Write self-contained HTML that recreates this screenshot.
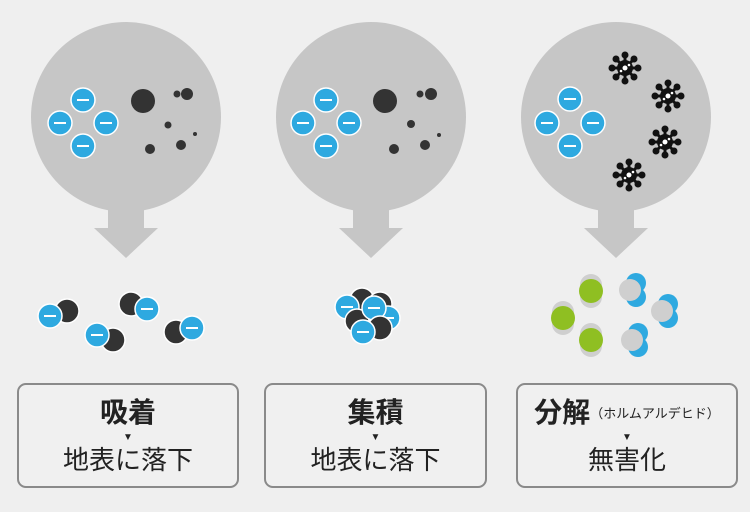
<!DOCTYPE html>
<html><head><meta charset="utf-8"><style>
body{margin:0;width:750px;height:512px;background:#efefef;overflow:hidden;position:relative;font-family:"Liberation Sans","Noto Sans CJK JP",sans-serif;}
.box{position:absolute;top:383px;height:101px;border:2px solid #8a8a8a;border-radius:9px;background:#f0f0f0;text-align:center;color:#222;}
.t{position:absolute;left:0;right:0;top:13px;font-size:28px;font-weight:bold;line-height:30px;}
.t small{font-size:13px;font-weight:normal;vertical-align:4px;}
.tri{position:absolute;left:0;right:0;top:48px;font-size:10px;line-height:10px;}
.s{position:absolute;left:0;right:0;top:60px;font-size:26px;line-height:30px;font-weight:normal;color:#222;}
</style></head><body>
<svg width="750" height="512" style="position:absolute;left:0;top:0">
<defs>
<g id="bub">
<circle cx="0" cy="0" r="95" fill="#c6c6c6"/>
<rect x="-18" y="80" width="36" height="32" fill="#c6c6c6"/>
<polygon points="-32,111 32,111 0,141" fill="#c6c6c6"/>
</g>
<g id="bl"><circle r="12" fill="#2ea9e0" stroke="#fff" stroke-width="1.5"/><rect x="-6" y="-1" width="12" height="2" fill="#fff"/></g>
<g id="bk"><circle r="12" fill="#333" stroke="#fff" stroke-width="1.5"/></g>
<g id="vir" fill="#111">
<circle r="8"/>
<g stroke="#111" stroke-width="3">
<line x1="0" y1="-13" x2="0" y2="13"/><line x1="-13" y1="0" x2="13" y2="0"/><line x1="-9" y1="-9" x2="9" y2="9"/><line x1="-9" y1="9" x2="9" y2="-9"/></g>
<circle cx="0" cy="-13" r="3.5"/><circle cx="0" cy="13" r="3.5"/><circle cx="-13" cy="0" r="3.5"/><circle cx="13" cy="0" r="3.5"/>
<circle cx="-9" cy="-9" r="3.5"/><circle cx="9" cy="9" r="3.5"/><circle cx="-9" cy="9" r="3.5"/><circle cx="9" cy="-9" r="3.5"/>
<circle r="2.5" fill="#fff"/><circle cx="-4" cy="3" r="1.3" fill="#fff"/><circle cx="4" cy="-3" r="1.3" fill="#fff"/>
</g>
<g id="gr"><circle cy="-6" r="11" fill="#cfcfcf"/><circle cy="6" r="11" fill="#cfcfcf"/><circle r="12" fill="#8fbf22"/></g>
<g id="gb"><circle cx="6" cy="-7" r="10" fill="#2ea9e0"/><circle cx="6" cy="7" r="10" fill="#2ea9e0"/><circle r="11" fill="#cfcfcf"/></g>
</defs>
<use href="#bub" x="126" y="117"/>
<use href="#bub" x="371" y="117"/>
<use href="#bub" x="616" y="117"/>
<use href="#bl" x="83" y="100"/><use href="#bl" x="60" y="123"/><use href="#bl" x="106" y="123"/><use href="#bl" x="83" y="146"/>
<circle cx="143" cy="101" r="12" fill="#333"/><circle cx="177" cy="94" r="3.5" fill="#333"/><circle cx="187" cy="94" r="6" fill="#333"/><circle cx="168" cy="125" r="3.5" fill="#333"/><circle cx="195" cy="134" r="2" fill="#333"/><circle cx="181" cy="145" r="5" fill="#333"/><circle cx="150" cy="149" r="5" fill="#333"/>
<use href="#bl" x="326" y="100"/><use href="#bl" x="303" y="123"/><use href="#bl" x="349" y="123"/><use href="#bl" x="326" y="146"/>
<circle cx="385" cy="101" r="12" fill="#333"/><circle cx="420" cy="94" r="3.5" fill="#333"/><circle cx="431" cy="94" r="6" fill="#333"/><circle cx="411" cy="124" r="4" fill="#333"/><circle cx="439" cy="135" r="2" fill="#333"/><circle cx="425" cy="145" r="5" fill="#333"/><circle cx="394" cy="149" r="5" fill="#333"/>
<use href="#bl" x="570" y="99"/><use href="#bl" x="547" y="123"/><use href="#bl" x="593" y="123"/><use href="#bl" x="570" y="146"/>
<use href="#vir" x="625" y="68"/><use href="#vir" x="668" y="96"/><use href="#vir" x="665" y="142"/><use href="#vir" x="629" y="175"/>
<use href="#bk" x="67" y="311"/><use href="#bl" x="50" y="316"/>
<use href="#bk" x="113" y="340"/><use href="#bl" x="97" y="335"/>
<use href="#bk" x="131" y="304"/><use href="#bl" x="147" y="309"/>
<use href="#bk" x="176" y="332"/><use href="#bl" x="192" y="328"/>
<use href="#bk" x="362" y="300"/><use href="#bk" x="380" y="304"/>
<use href="#bl" x="388" y="318"/>
<use href="#bl" x="347" y="307"/>
<use href="#bk" x="357" y="321"/>
<use href="#bl" x="374" y="308"/>
<use href="#bk" x="380" y="328"/>
<use href="#bl" x="363" y="332"/>
<use href="#gr" x="591" y="291"/><use href="#gr" x="563" y="318"/><use href="#gr" x="591" y="340"/>
<use href="#gb" x="630" y="290"/><use href="#gb" x="662" y="311"/><use href="#gb" x="632" y="340"/>
</svg>
<div class="box" style="left:17px;width:218px"><div class="t">吸着</div><div class="tri">▼</div><div class="s">地表に落下</div></div>
<div class="box" style="left:264px;width:219px"><div class="t">集積</div><div class="tri">▼</div><div class="s">地表に落下</div></div>
<div class="box" style="left:516px;width:218px"><div class="t">分解<small>（ホルムアルデヒド）</small></div><div class="tri">▼</div><div class="s">無害化</div></div>
</body></html>
